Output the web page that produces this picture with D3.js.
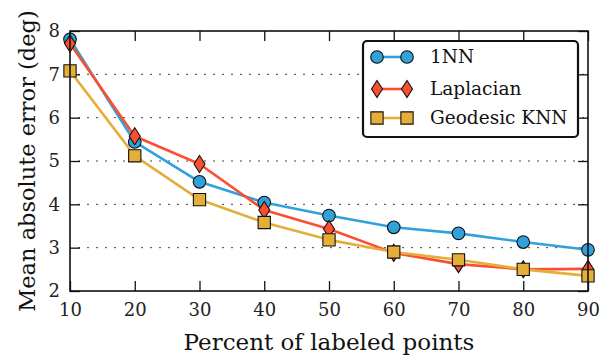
<!DOCTYPE html>
<html><head><meta charset="utf-8">
<script src="https://cdn.jsdelivr.net/npm/d3@7/dist/d3.min.js"></script>
<style>body{margin:0;background:#fff}svg{display:block}text{font-family:"DejaVu Serif","Liberation Serif",serif}</style>
</head><body><svg id="c" width="602" height="358"></svg>
<script>
const percents = [10,20,30,40,50,60,70,80,90];
const nn1 = [7.81,5.44,4.52,4.04,3.74,3.47,3.33,3.13,2.95];
const laplacian = [7.71,5.57,4.93,3.87,3.43,2.88,2.62,2.5,2.51];
const geodesic = [7.08,5.12,4.11,3.58,3.18,2.9,2.72,2.5,2.35];
const yTicks = [2,3,4,5,6,7,8];
const gridTicks = [3,4,5,6,7];
const seriesNames = ["1NN","Laplacian","Geodesic KNN"];
const colors = ["#30a2da","#fc4f30","#e5ae38"];
const shapes = ["circle","diamond","square"];

const svg = d3.select("#c");
const L=70,R=588,T=31,B=291;
const x = d3.scaleLinear().domain([10,90]).range([L,R]);
const y = d3.scaleLinear().domain([2,8]).range([B,T]);

// grid
svg.append("g").selectAll("line").data(gridTicks).join("line")
  .attr("x1",L).attr("x2",R).attr("y1",d=>y(d)).attr("y2",d=>y(d))
  .attr("stroke","#444").attr("stroke-width",1).attr("stroke-dasharray","2,7").attr("stroke-dashoffset",-8);

const tickLen=10;
const styleAxis = g=>{
  g.select(".domain").remove();
  g.selectAll("text").attr("font-size",18).attr("font-family","DejaVu Serif").attr("fill","#222");
  g.selectAll("line").attr("stroke","#111").attr("stroke-width",1.3);
};
svg.append("g").attr("transform",`translate(0,${B})`)
  .call(d3.axisBottom(x).tickValues(percents).tickSize(-tickLen).tickPadding(12).tickSizeOuter(0).tickFormat(d3.format("d")))
  .call(styleAxis);
svg.append("g").attr("transform",`translate(0,${T})`)
  .call(d3.axisTop(x).tickValues(percents).tickSize(-tickLen).tickFormat("").tickSizeOuter(0))
  .call(styleAxis);
svg.append("g").attr("transform",`translate(${L},0)`)
  .call(d3.axisLeft(y).tickValues(yTicks).tickSize(-tickLen).tickPadding(10).tickSizeOuter(0).tickFormat(d3.format("d")))
  .call(styleAxis);
svg.append("g").attr("transform",`translate(${R},0)`)
  .call(d3.axisRight(y).tickValues(yTicks).tickSize(-tickLen).tickFormat("").tickSizeOuter(0))
  .call(styleAxis);

const all=[nn1,laplacian,geodesic];
const line = d3.line().x((d,i)=>x(percents[i])).y(d=>y(d));
const sym = {
  circle: d3.symbol(d3.symbolCircle, 125)(),
  diamond: "M0,-8.5L5.5,0L0,8.5L-5.5,0Z",
  square: d3.symbol(d3.symbolSquare, 150)()
};
const plot = svg.append("g");
all.forEach((vals,k)=>{
  plot.append("path").datum(vals).attr("d",line).attr("fill","none")
    .attr("stroke",colors[k]).attr("stroke-width",2.6).attr("stroke-linejoin","round");
});
all.forEach((vals,k)=>{
  plot.append("g").selectAll("path").data(vals).join("path")
    .attr("transform",(d,i)=>`translate(${x(percents[i])},${y(d)})`)
    .attr("d",sym[shapes[k]]).attr("fill",colors[k]).attr("stroke","#111").attr("stroke-width",1.1);
});

// frame
svg.append("rect").attr("x",L).attr("y",T).attr("width",R-L).attr("height",B-T)
  .attr("fill","none").attr("stroke","#111").attr("stroke-width",1.6);

// legend
const lg = svg.append("g");
lg.append("rect").attr("x",363).attr("y",41).attr("width",215).attr("height",96).attr("rx",4)
  .attr("fill","#fff").attr("stroke","#111").attr("stroke-width",2.2);
const rowsY=[57,89,118];
seriesNames.forEach((n,k)=>{
  const g=lg.append("g");
  g.append("line").attr("x1",377).attr("x2",407).attr("y1",rowsY[k]).attr("y2",rowsY[k]).attr("stroke",colors[k]).attr("stroke-width",2.6);
  [377,407].forEach(px=>g.append("path").attr("transform",`translate(${px},${rowsY[k]})`).attr("d",sym[shapes[k]]).attr("fill",colors[k]).attr("stroke","#111").attr("stroke-width",1.1));
  g.append("text").attr("x",430).attr("y",rowsY[k]+6).attr("font-size",18.5).attr("fill","#111").text(n);
});

// axis labels
svg.append("text").attr("x",(L+R)/2).attr("y",350).attr("text-anchor","middle").attr("font-size",23).attr("fill","#111").text("Percent of labeled points");
svg.append("text").attr("transform",`translate(35,161) rotate(-90)`).attr("text-anchor","middle").attr("font-size",22.5).attr("fill","#111").text("Mean absolute error (deg)");
</script></body></html>
